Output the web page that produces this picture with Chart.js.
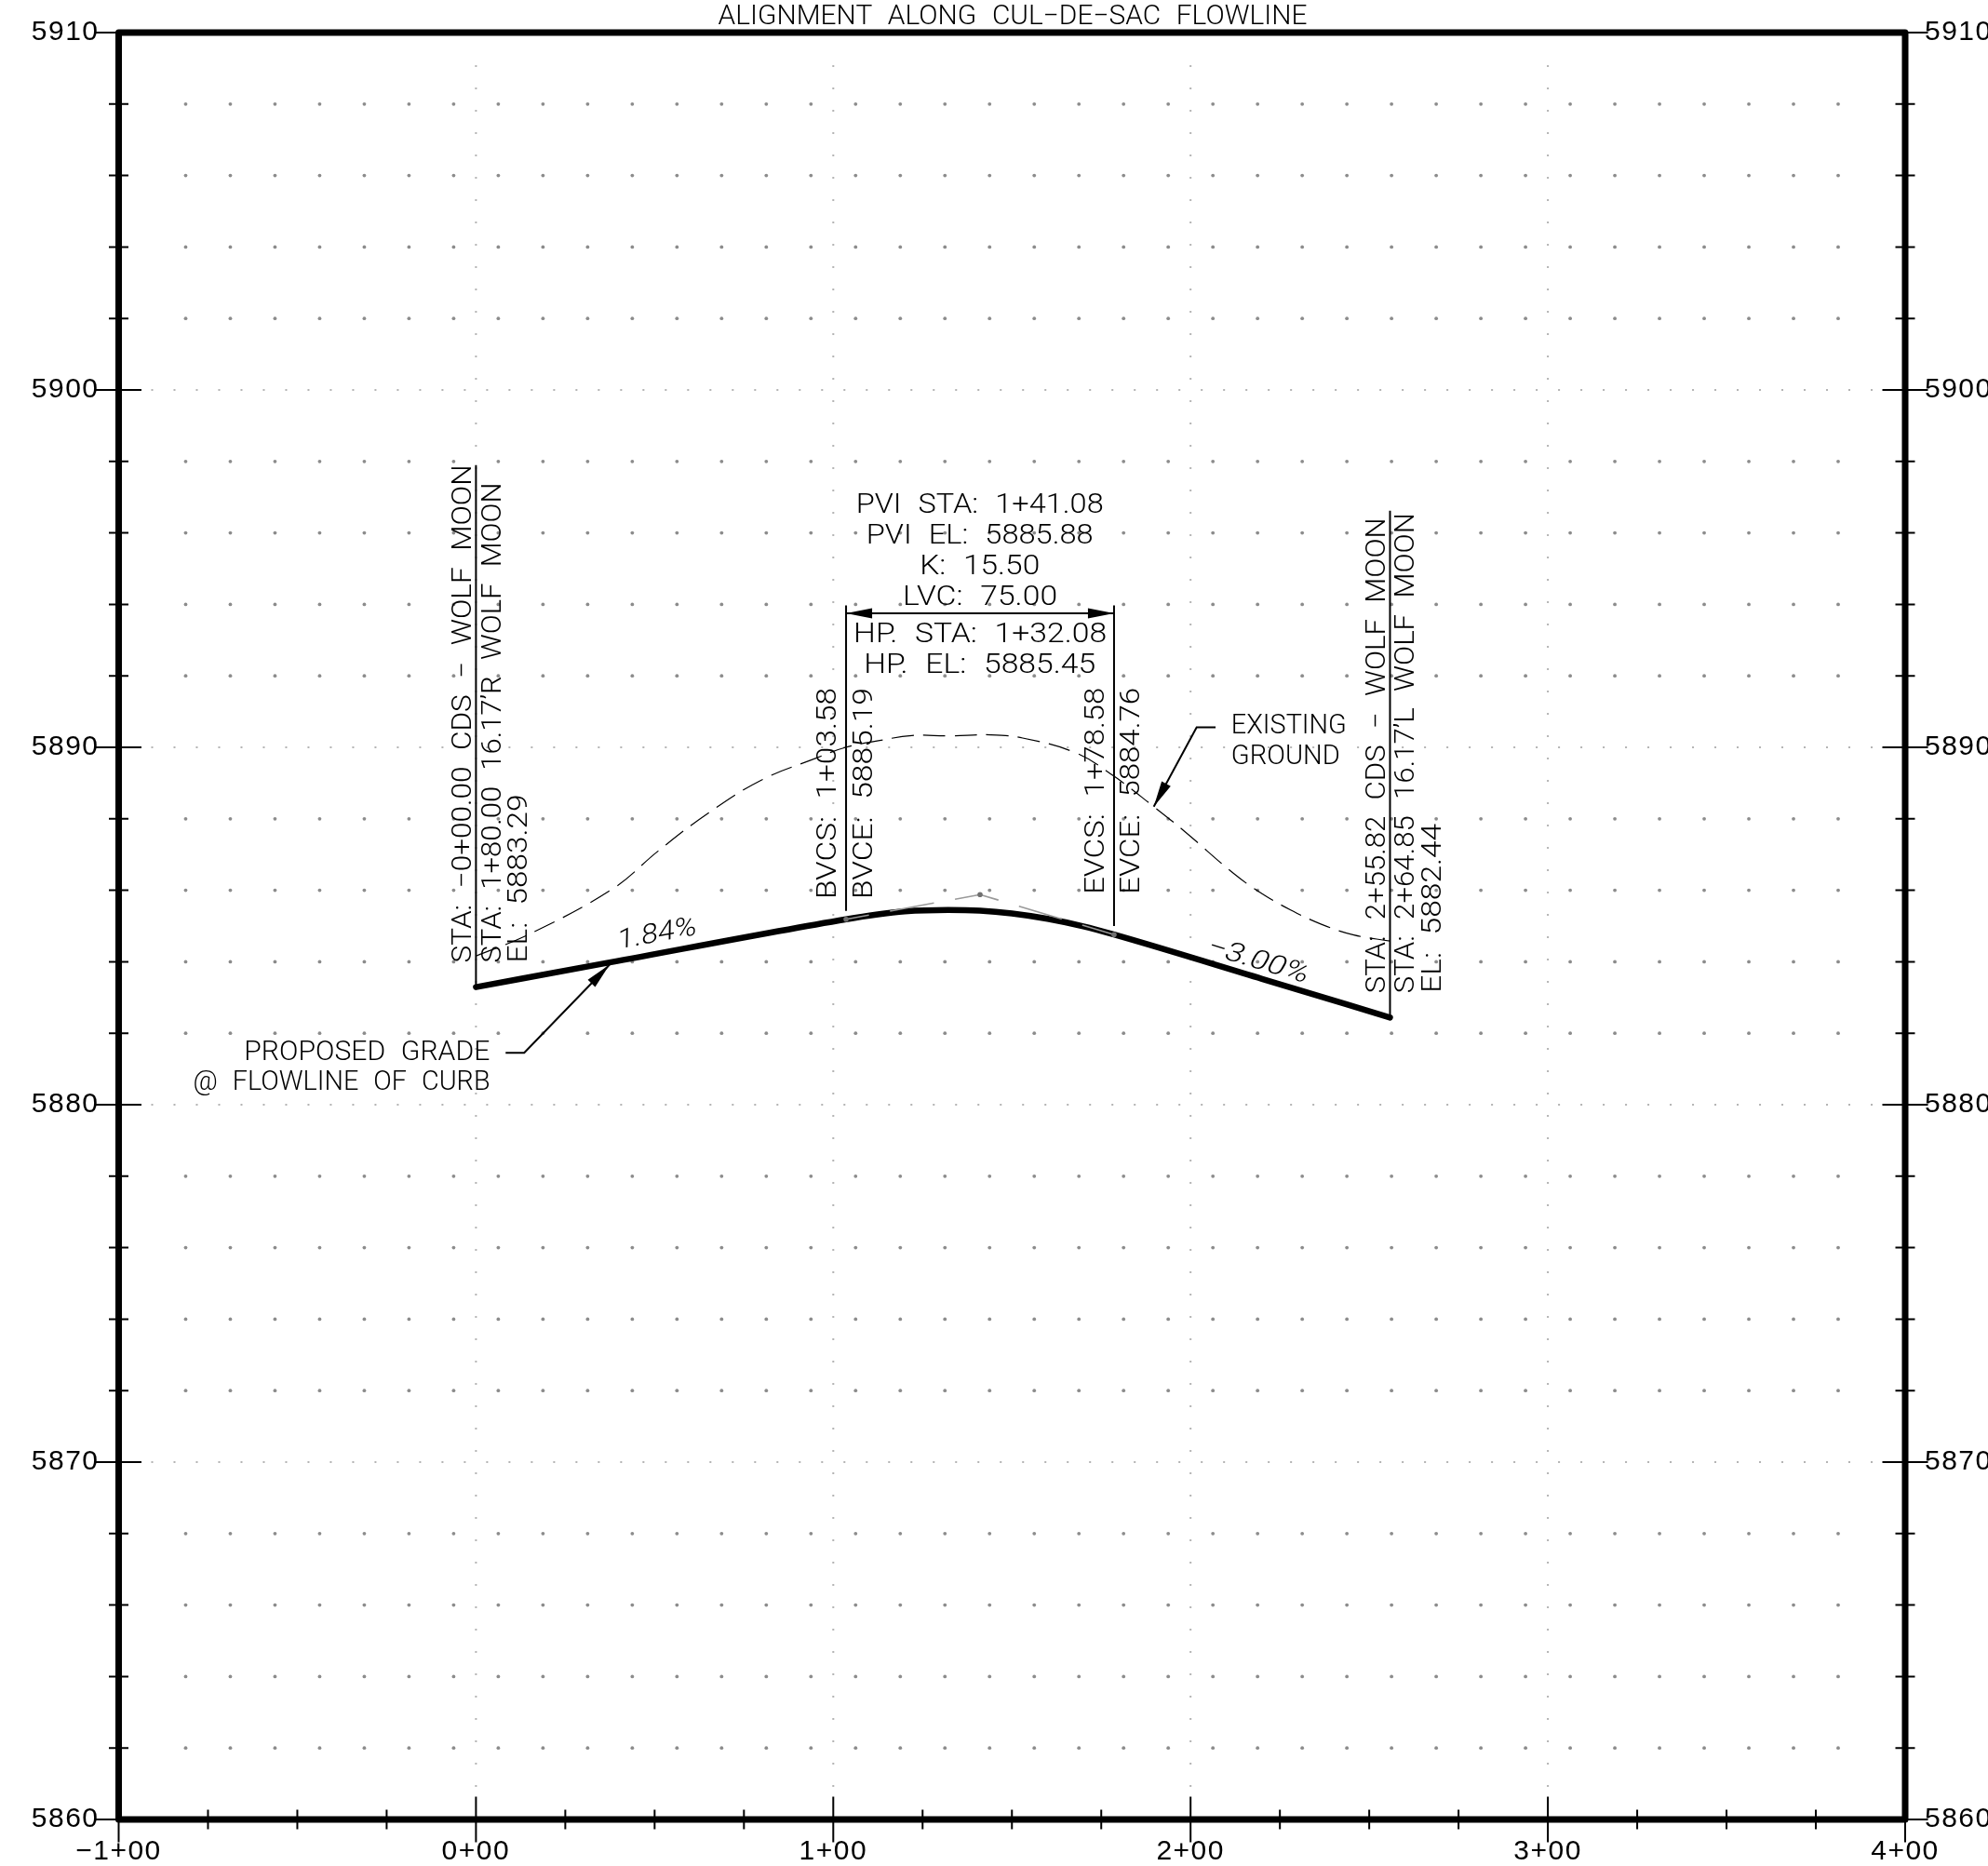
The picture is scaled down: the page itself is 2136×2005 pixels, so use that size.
<!DOCTYPE html>
<html>
<head>
<meta charset="utf-8">
<style>html,body{margin:0;padding:0;background:#fff}canvas{display:block}</style>
<script src="https://cdn.jsdelivr.net/npm/chart.js@4"></script>
</head>
<body>
<canvas id="c" width="2136" height="2005" style="width:2136px;height:2005px"></canvas>
<script>
// ---- values ----
const stationTicks = [-100, 0, 100, 200, 300, 400];
const stationLabels = ['\u22121+00', '0+00', '1+00', '2+00', '3+00', '4+00'];
const elevationTicks = [5860, 5870, 5880, 5890, 5900, 5910];

const gradeStations = [0, 37.4, 103.58, 112, 120, 132.08, 141.08, 150, 160, 170, 178.58, 220, 255.82];
const gradeElevations = [5883.29, 5883.98, 5885.19, 5885.32, 5885.41, 5885.45, 5885.43, 5885.35, 5885.20, 5884.99, 5884.76, 5883.52, 5882.44];

const tangentStations = [103.58, 141.08, 178.58];
const tangentElevations = [5885.19, 5885.88, 5884.76];

const groundStations = [0, 15.1, 38.4, 51, 65, 80, 95, 103.5, 113, 122, 132.6, 144, 153, 168, 178.6, 189.7, 198.3, 212.3, 220.1, 228, 236.6, 245.7, 255.8];
const groundElevations = [5884.16, 5884.78, 5886.05, 5887.1, 5888.16, 5889.09, 5889.69, 5890.0, 5890.19, 5890.33, 5890.32, 5890.35, 5890.26, 5889.84, 5889.19, 5888.34, 5887.65, 5886.45, 5885.9, 5885.45, 5885.05, 5884.75, 5884.58];

// text: [string, station, elevation, rotation deg, fitted length]
const notes = [
  ['ALIGNMENT ALONG CUL\u2212DE\u2212SAC FLOWLINE', 150.2, 5910.43, 0, 633],
  ['PVI STA: 1+41.08', 141.0, 5896.74, 0, 266],
  ['PVI EL: 5885.88', 141.0, 5895.89, 0, 244],
  ['K: 15.50', 141.0, 5895.04, 0, 129],
  ['LVC: 75.00', 141.1, 5894.18, 0, 166],
  ['HP. STA: 1+32.08', 141.1, 5893.12, 0, 272],
  ['HP. EL: 5885.45', 141.0, 5892.27, 0, 249],
  ['PROPOSED GRADE', -30.5, 5881.45, 0, 264],
  ['@ FLOWLINE OF CURB', -37.6, 5880.6, 0, 319],
  ['EXISTING', 227.5, 5890.57, 0, 124],
  ['GROUND', 226.6, 5889.72, 0, 117],
  ['STA: \u22120+00.00 CDS \u2212 WOLF MOON', -3.2, 5890.94, -90, 535],
  ['STA: 1+80.00 16.17\u2019R WOLF MOON', 5.0, 5890.69, -90, 516],
  ['EL: 5883.29', 12.4, 5886.33, -90, 181],
  ['BVCS: 1+03.58', 98.8, 5888.71, -90, 227],
  ['BVCE: 5885.19', 108.9, 5888.71, -90, 227],
  ['EVCS: 1+78.58', 173.8, 5888.78, -90, 222],
  ['EVCE: 5884.76', 183.7, 5888.78, -90, 222],
  ['STA: 2+55.82 CDS \u2212 WOLF MOON', 252.5, 5889.77, -90, 511],
  ['STA: 2+64.85 16.17\u2019L WOLF MOON', 260.6, 5889.84, -90, 516],
  ['EL: 5882.44', 268.1, 5885.5, -90, 182],
  ['1.84%', 50.7, 5884.75, -10.4, 86],
  ['\u22123.00%', 218.8, 5884.0, 16.7, 112]
];
// leader lines: list of [station, elevation]
const leaders = [
  [[0, 5897.9], [0, 5883.29]],
  [[103.58, 5893.97], [103.58, 5885.42]],
  [[178.58, 5893.97], [178.58, 5885.0]],
  [[255.82, 5896.62], [255.82, 5882.44]],
  [[8.3, 5881.45], [13.5, 5881.45], [37.4, 5883.92]],
  [[207, 5890.56], [201.7, 5890.56], [189.7, 5888.34]],
  [[103.58, 5893.75], [178.58, 5893.75]]
];
const arrows = [
  [[13.5, 5881.45], [37.4, 5883.92]],
  [[201.7, 5890.56], [189.7, 5888.34]],
  [[178.58, 5893.75], [103.58, 5893.75]],
  [[103.58, 5893.75], [178.58, 5893.75]]
];

const toPoints = (xs, ys) => xs.map((x, i) => ({ x, y: ys[i] }));
const FONT = '"Liberation Sans", Arial, sans-serif';
const NOTE_FONT = '350 29px Roboto, "Liberation Sans", sans-serif';

const cadPlugin = {
  id: 'cad',
  beforeDraw(chart) {
    const c = chart.ctx;
    c.save();
    c.fillStyle = '#fff';
    c.fillRect(0, 0, chart.width, chart.height);
    c.restore();
    c.letterSpacing = '1.5px';
  },
  beforeDatasetsDraw(chart) {
    const c = chart.ctx, X = chart.scales.x, Y = chart.scales.y;
    c.save();
    c.letterSpacing = '0px';
    // sparse dots on the minor rows
    c.fillStyle = '#8c8c8c';
    for (const t of Y.ticks) {
      if (t.value % 10 === 0) continue;
      const py = Y.getPixelForValue(t.value);
      for (let s = -81.25; s <= 381.25; s += 12.5) {
        c.beginPath();
        c.arc(X.getPixelForValue(s), py, 1.9, 0, Math.PI * 2);
        c.fill();
      }
    }
    // fine dots on the major rows and columns
    c.fillStyle = '#b4b4b4';
    for (const el of elevationTicks) {
      if (el === Y.min || el === Y.max) continue;
      const py = Y.getPixelForValue(el);
      for (let s = -90.625; s <= 390.625; s += 6.25) {
        c.fillRect(X.getPixelForValue(s) - 1, py - 1, 2, 2);
      }
    }
    for (const st of stationTicks) {
      if (st === X.min || st === X.max) continue;
      const px = X.getPixelForValue(st);
      for (let e = 5860.9375; e <= 5909.0625; e += 0.625) {
        c.fillRect(px - 1, Y.getPixelForValue(e) - 1, 2, 2);
      }
    }
    c.restore();
  },
  afterDatasetsDraw(chart) {
    const c = chart.ctx, X = chart.scales.x, Y = chart.scales.y, a = chart.chartArea;
    c.save();
    c.letterSpacing = '0px';
    // leaders
    c.strokeStyle = '#000';
    c.lineWidth = 2;
    for (const l of leaders) {
      c.beginPath();
      l.forEach((p, i) => {
        const px = X.getPixelForValue(p[0]), py = Y.getPixelForValue(p[1]);
        i ? c.lineTo(px, py) : c.moveTo(px, py);
      });
      c.stroke();
    }
    // arrow heads
    c.fillStyle = '#000';
    for (const [from, to] of arrows) {
      const x0 = X.getPixelForValue(from[0]), y0 = Y.getPixelForValue(from[1]);
      const x1 = X.getPixelForValue(to[0]), y1 = Y.getPixelForValue(to[1]);
      const ang = Math.atan2(y1 - y0, x1 - x0);
      c.save();
      c.translate(x1, y1);
      c.rotate(ang);
      c.beginPath();
      c.moveTo(0, 0);
      c.lineTo(-28, -5.5);
      c.lineTo(-28, 5.5);
      c.closePath();
      c.fill();
      c.restore();
    }
    // frame
    c.lineWidth = 7;
    c.lineJoin = 'round';
    c.strokeRect(a.left, a.top, a.right - a.left, a.bottom - a.top);
    // y tick marks, both frames
    c.lineWidth = 2;
    for (const t of Y.ticks) {
      const py = Y.getPixelForValue(t.value);
      const major = t.value % 10 === 0;
      const len = major ? 24.5 : 10.5;
      const edge = t.value === Y.min || t.value === Y.max;
      c.beginPath();
      c.moveTo(a.left - len, py); c.lineTo(a.left + (edge ? 0 : len), py);
      c.moveTo(a.right - (edge ? 0 : len), py); c.lineTo(a.right + len, py);
      c.stroke();
    }
    // x tick marks
    for (const t of X.ticks) {
      const px = X.getPixelForValue(t.value);
      const major = t.value % 100 === 0;
      const len = major ? 24.5 : 10.5;
      const edge = t.value === X.min || t.value === X.max;
      c.beginPath();
      c.moveTo(px, a.bottom - (edge ? 0 : len)); c.lineTo(px, a.bottom + len);
      c.stroke();
    }
    // notes
    c.fillStyle = '#000';
    c.font = NOTE_FONT;
    c.textAlign = 'center';
    c.textBaseline = 'middle';
    c.wordSpacing = '9px';
    for (const [text, st, el, rot, len] of notes) {
      const w = c.measureText(text).width;
      c.save();
      c.translate(X.getPixelForValue(st), Y.getPixelForValue(el));
      c.rotate(rot * Math.PI / 180);
      c.scale(len / w, 1);
      if (rot % 90 !== 0) c.transform(1, 0, -0.18, 1, 0, 0);
      c.fillText(text, 0, 0);
      c.restore();
    }
    c.restore();
  }
};

new Chart(document.getElementById('c'), {
  type: 'scatter',
  data: {
    datasets: [
      {
        label: 'Tangents',
        data: toPoints(tangentStations, tangentElevations),
        showLine: true,
        borderColor: '#999999',
        borderWidth: 1.6,
        borderDash: [48, 23],
        borderDashOffset: 23,
        pointRadius: 2.8,
        pointBackgroundColor: '#707070',
        pointBorderWidth: 0,
        tension: 0
      },
      {
        label: 'Proposed grade',
        data: toPoints(gradeStations, gradeElevations),
        showLine: true,
        borderColor: '#000',
        borderWidth: 6.5,
        borderCapStyle: 'round',
        pointRadius: 0,
        cubicInterpolationMode: 'monotone'
      },
      {
        label: 'Existing ground',
        data: toPoints(groundStations, groundElevations),
        showLine: true,
        borderColor: '#000',
        borderWidth: 1.2,
        borderDash: [24, 10],
        pointRadius: 0,
        tension: 0.4
      }
    ]
  },
  options: {
    responsive: false,
    animation: false,
    devicePixelRatio: 1,
    layout: { autoPadding: false, padding: { top: 35, right: 0, left: 0, bottom: 0 } },
    plugins: { legend: { display: false }, tooltip: { enabled: false }, title: { display: false } },
    scales: {
      x: {
        type: 'linear', position: 'bottom', min: -100, max: 400,
        afterFit(s) { s.height = 50; s.paddingLeft = 0; s.paddingRight = 0; },
        grid: { display: false, drawTicks: false },
        border: { display: false },
        ticks: {
          stepSize: 25, autoSkip: false, maxRotation: 0, padding: 17, color: '#000',
          font: { family: FONT, size: 30 },
          callback(v) { const i = stationTicks.indexOf(v); return i < 0 ? '' : stationLabels[i]; }
        }
      },
      y: {
        type: 'linear', position: 'left', min: 5860, max: 5910,
        afterFit(s) { s.width = 127.5; s.paddingTop = 0; s.paddingBottom = 0; },
        grid: { display: false, drawTicks: false },
        border: { display: false },
        ticks: {
          stepSize: 2, autoSkip: false, padding: 21, color: '#000',
          font: { family: FONT, size: 30 },
          callback(v) { return elevationTicks.includes(v) ? String(v) : ''; }
        }
      },
      y2: {
        type: 'linear', position: 'right', min: 5860, max: 5910,
        afterFit(s) { s.width = 89; s.paddingTop = 0; s.paddingBottom = 0; },
        grid: { display: false, drawTicks: false },
        border: { display: false },
        ticks: {
          stepSize: 2, autoSkip: false, padding: 21, color: '#000',
          font: { family: FONT, size: 30 },
          callback(v) { return elevationTicks.includes(v) ? String(v) : ''; }
        }
      }
    }
  },
  plugins: [cadPlugin]
});
</script>
</body>
</html>
